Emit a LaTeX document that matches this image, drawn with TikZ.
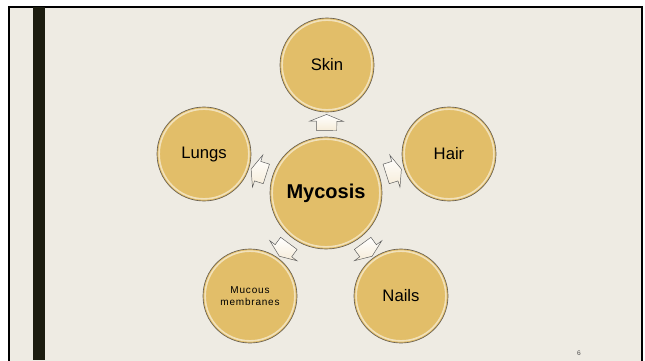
\documentclass[tikz,border=0pt]{standalone}
\usepackage{fontspec}
\setmainfont{Liberation Sans}
\usetikzlibrary{shapes.arrows, calc}
\definecolor{slidebg}{RGB}{238,235,227}
\definecolor{barcol}{RGB}{28,28,16}
\definecolor{gold}{RGB}{226,190,105}
\definecolor{rimcol}{RGB}{105,96,82}
\definecolor{arrfill}{RGB}{246,236,216}
\tikzstyle{bubble}=[circle, fill=gold, draw=rimcol, line width=0.5pt, minimum size=70.5pt, inner sep=0pt, text=black,
  font=\fontsize{12.5}{14}\selectfont,
  path picture={\draw[white, opacity=.55, line width=1.2pt] let \p1=($(path picture bounding box.north)-(path picture bounding box.center)$) in (path picture bounding box.center) circle[radius=\y1-1.6pt];}]
\tikzstyle{hub}=[bubble, minimum size=84pt, font=\fontsize{15}{17}\selectfont\bfseries]
\tikzstyle{blockarr}=[single arrow, draw=gray!70!black, line width=0.35pt, top color=white, bottom color=arrfill, minimum height=12pt,
  single arrow head extend=5pt, single arrow tip angle=136, inner xsep=0pt, inner ysep=7.5pt, sloped, allow upside down]

\begin{document}
\begin{tikzpicture}[x=0.75pt, y=-0.75pt]
			\useasboundingbox (0,0) rectangle (645,360);
			\clip (0,0) rectangle (645,360);
			% slide
			\fill[white] (0,0) rectangle (645,360);
			\draw[black, line width=1.5pt, fill=slidebg] (8.5,7.5) rectangle (642,370);
			\fill[barcol] (33,7) rectangle (45,360);
			% circles
			\node[hub] (myc) at (326,193) {Mycosis};
			\node[bubble] (skin) at (327,65) {Skin};
			\node[bubble] (hair) at (449,154) {Hair};
			\node[bubble] (nails) at (401,296) {Nails};
			\node[bubble, align=center, font=\fontsize{7.5}{9}\selectfont\addfontfeatures{LetterSpace=8}] (mucous) at (250,296) {Mucous\\membranes};
			\node[bubble] (lungs) at (204,154) {Lungs};
			% arrows
			\foreach \t in {skin, hair, nails, mucous, lungs}{
				\path (myc) -- node[blockarr] (arr-\t) {} (\t);
			}
			\node[font=\fontsize{5}{6}\selectfont, text=gray!60!black] (pgnum) at (579,353) {6};
		\end{tikzpicture}
\end{document}
